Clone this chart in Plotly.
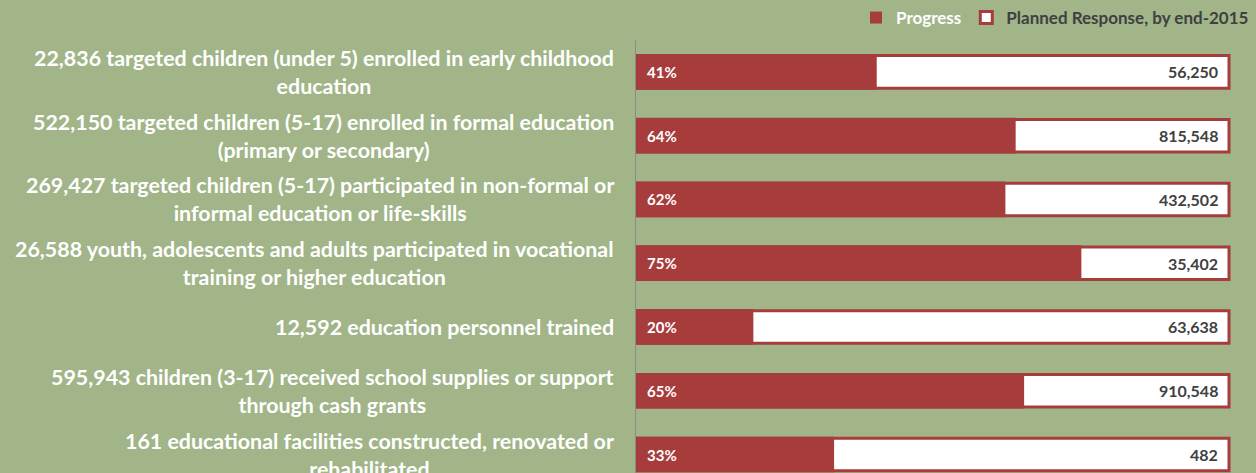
import plotly.graph_objects as go

labels = [
    "22,836 targeted children (under 5) enrolled in early childhood<br>education",
    "522,150 targeted children (5-17) enrolled in formal education<br>(primary or secondary)",
    "269,427 targeted children (5-17) participated in non-formal or<br>informal education or life-skills",
    "26,588 youth, adolescents and adults participated in vocational<br>training or higher education",
    "12,592 education personnel trained",
    "595,943 children (3-17) received school supplies or support<br>through cash grants",
    "161 educational facilities constructed, renovated or<br>rehabilitated",
]
progress = [22836, 522150, 269427, 26588, 12592, 595943, 161]
planned = [56250, 815548, 432502, 35402, 63638, 910548, 482]

BG = "#A1B588"
RED = "#A63D3C"
DARK = "#404040"
FONT = "Lato"

rows = list(range(len(labels)))
frac = [p / t for p, t in zip(progress, planned)]

fig = go.Figure()
fig.add_trace(go.Bar(
    y=rows, x=[1.0] * len(rows), orientation="h", width=0.51,
    marker=dict(color="white", line=dict(color=RED, width=3)),
    name="<b><span style='color:%s'>Planned Response, by end-2015</span></b>" % DARK,
    hoverinfo="skip",
))
fig.add_trace(go.Bar(
    y=rows, x=frac, orientation="h", width=0.56,
    marker=dict(color=RED, line=dict(width=0)),
    name="<b><span style='color:white'>Progress</span></b>",
    hoverinfo="skip",
))

annotations = []
for i, (lab, f, t) in enumerate(zip(labels, frac, planned)):
    annotations.append(dict(
        x=0, xref="paper", y=i, yref="y", text="<b>%s</b>" % lab,
        xanchor="right", yanchor="middle", align="center", xshift=-20,
        showarrow=False, font=dict(family=FONT, size=21.4, color="white"),
    ))
    annotations.append(dict(
        x=0, xref="x", y=i, yref="y", text="<b>%d%%</b>" % round(f * 100),
        xanchor="left", yanchor="middle", xshift=9,
        showarrow=False, font=dict(family=FONT, size=15, color="white"),
    ))
    annotations.append(dict(
        x=1, xref="x", y=i, yref="y", text="<b>{:,}</b>".format(t),
        xanchor="right", yanchor="middle", xshift=-9,
        showarrow=False, font=dict(family=FONT, size=16, color=DARK),
    ))

fig.update_layout(
    width=1256, height=473,
    paper_bgcolor=BG, plot_bgcolor=BG,
    margin=dict(l=636, r=20, t=37, b=0),
    barmode="overlay",
    xaxis=dict(range=[0, 1.0118], showgrid=False, zeroline=False,
               showticklabels=False, showline=False, fixedrange=True),
    yaxis=dict(range=[6.29, -0.5], showgrid=False, zeroline=False,
               showticklabels=False, showline=True, linecolor="#8C8C8C",
               linewidth=1, ticks="", fixedrange=True),
    legend=dict(orientation="h", x=1.03, xanchor="right", y=1.01, yanchor="bottom",
                font=dict(family=FONT, size=17, color=DARK), traceorder="reversed",
                bgcolor="rgba(0,0,0,0)"),
    annotations=annotations,
    font=dict(family=FONT),
)
fig.write_html(
    "out.html",
    config={"displayModeBar": False},
    post_script="document.body.style.margin='0';document.body.style.padding='0';"
                "document.body.style.overflow='hidden';document.body.style.background='%s';" % BG,
)
